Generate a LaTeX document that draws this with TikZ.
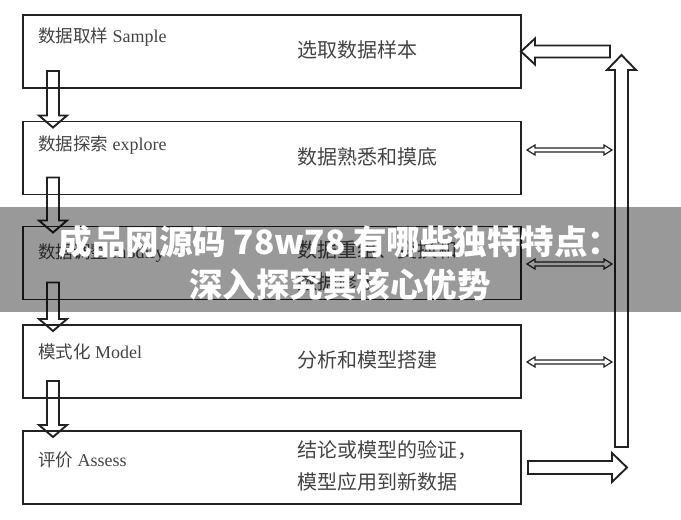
\documentclass[tikz,border=0pt]{standalone}
\usepackage{fontspec}
\setmainfont{Liberation Serif}
\newfontfamily\cjk{Noto Sans CJK SC}
\usetikzlibrary{calc}
\definecolor{linec}{HTML}{222222}
\definecolor{txtc}{HTML}{444444}
\begin{document}
\begin{tikzpicture}[x=1pt,y=-1pt,
  box/.style={draw=linec, line width=1.9pt, minimum width=498pt, minimum height=73pt, inner sep=0pt, outer sep=0pt},
  lbl/.style={anchor=west, text=txtc, font=\fontsize{18}{20}\selectfont, inner sep=0pt},
  rtx/.style={anchor=west, text=txtc, font=\cjk\fontsize{20}{32}\selectfont, inner sep=0pt, align=left},
  barrow/.style={draw=linec, line width=1.9pt, line join=miter},
  darrow/.style={draw=linec, line width=1.2pt, fill=white, line join=miter},
  bantext/.style={text=white, font=\cjk\bfseries\fontsize{33.5}{40}\selectfont, inner sep=0pt}
]
\fill[white] (0,0) rectangle (681,520);
\useasboundingbox (0,0) rectangle (681,520);

% boxes
\node[box] (b1) at (272,51.5) {};
\node[box] (b2) at (272,158) {};
\node[box] (b3) at (272,263) {};
\node[box] (b4) at (272,361.5) {};
\node[box] (b5) at (272,467.5) {};

% left labels
\node[lbl] (l1) at (38,37) {{\cjk\fontsize{17.5}{20}\selectfont 数据取样} Sample};
\node[lbl] (l2) at (38,145) {{\cjk\fontsize{17.5}{20}\selectfont 数据探索} explore};
\node[lbl] (l3) at (38,253) {{\cjk\fontsize{17.5}{20}\selectfont 数据调整} modify};
\node[lbl] (l4) at (38,352) {{\cjk\fontsize{17.5}{20}\selectfont 模式化} Model};
\node[lbl] (l5) at (38,460) {{\cjk\fontsize{17.5}{20}\selectfont 评价} Assess};

% right texts
\node[rtx] (r1) at (297,50) {选取数据样本};
\node[rtx] (r2) at (297,157) {数据熟悉和摸底};
\node[rtx] (r3) at (297,266) {数据重组、变换和\\数据修正};
\node[rtx] (r4) at (297,360) {分析和模型搭建};
\node[rtx] (r5) at (297,466) {结论或模型的验证，\\模型应用到新数据};

% down block arrows between boxes
\foreach \a/\b in {b1/b2,b2/b3,b3/b4,b4/b5}{
  \draw[barrow] let \p1=(\a.south west), \p2=(\b.north west) in
    (\x1+24pt,\y1+17pt) -- (\x1+36pt,\y1+17pt) -- (\x1+36pt,\y2+6pt) -- (\x1+44pt,\y2+6pt)
    -- (\x1+30pt,\y2-6pt) -- (\x1+16pt,\y2+6pt) -- (\x1+24pt,\y2+6pt) -- cycle;
}

% feedback loop
\coordinate (upbot) at (621.5,447);
\coordinate (uptip) at (621.5,55);
\draw[barrow] let \p1=(upbot), \p2=(uptip) in
  (\x1-6.5pt,\y1) -- (\x1+6.5pt,\y1) -- (\x1+6.5pt,\y2-15pt) -- (\x1+14.5pt,\y2-15pt)
  -- (\x2,\y2) -- (\x1-14.5pt,\y2-15pt) -- (\x1-6.5pt,\y2-15pt) -- cycle;
% arrow back into b1
\draw[barrow] let \p1=(b1.east), \p2=(upbot) in
  (\x1,\y1) -- (\x1+14pt,\y1+13pt) -- (\x1+14pt,\y1+6pt) -- (\x2-11.5pt,\y1+6pt)
  -- (\x2-11.5pt,\y1-6pt) -- (\x1+14pt,\y1-6pt) -- (\x1+14pt,\y1-13pt) -- cycle;
% arrow out of b5
\draw[barrow] let \p1=(b5.east), \p2=(upbot) in
  (\x1+7pt,\y1+6.5pt) -- (\x2-9.5pt,\y1+6.5pt) -- (\x2-9.5pt,\y1+14.5pt) -- (\x2+5.5pt,\y1)
  -- (\x2-9.5pt,\y1-14.5pt) -- (\x2-9.5pt,\y1-6.5pt) -- (\x1+7pt,\y1-6.5pt) -- cycle;

% double arrows
\coordinate (d2) at (527,150);
\coordinate (d3) at (527,264);
\coordinate (d4) at (527,362);
\foreach \d in {d2,d3,d4}{
  \draw[darrow] let \p1=(\d) in
    (\x1,\y1) -- (\x1+8pt,\y1+5pt) -- (\x1+8pt,\y1+2pt) -- (\x1+77pt,\y1+2pt) -- (\x1+77pt,\y1+5pt)
    -- (\x1+85pt,\y1) -- (\x1+77pt,\y1-5pt) -- (\x1+77pt,\y1-2pt) -- (\x1+8pt,\y1-2pt) -- (\x1+8pt,\y1-5pt) -- cycle;
}

% overlay banner
\fill[black, opacity=0.4] (0,207) rectangle (681,312);
\node[bantext] (t1) at (340,242) {成品网源码 78w78 有哪些独特特点：};
\node[bantext] (t2) at (340,285) {深入探究其核心优势};
\end{tikzpicture}
\end{document}
